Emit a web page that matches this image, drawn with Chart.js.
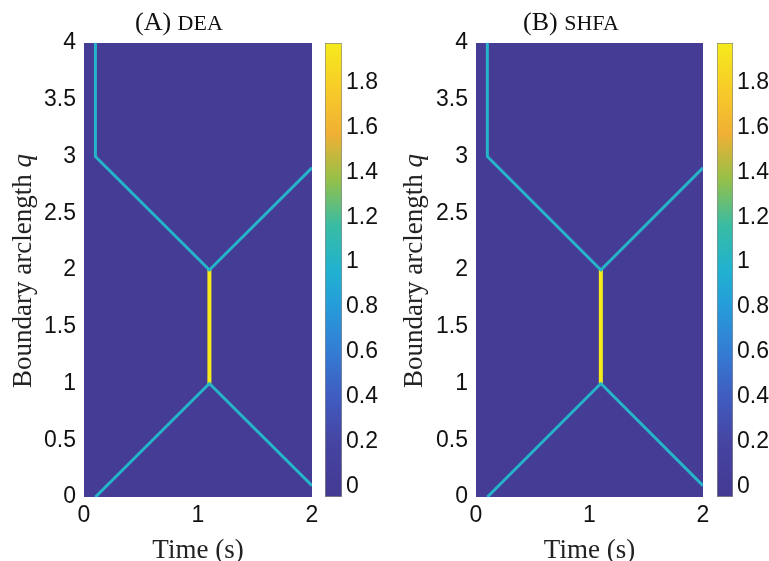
<!DOCTYPE html>
<html>
<head>
<meta charset="utf-8">
<script src="https://cdn.jsdelivr.net/npm/chart.js@4.4.1/dist/chart.umd.min.js"></script>
<style>
    body { margin: 0; background: #fff; width: 769px; height: 561px; position: relative; overflow: hidden; }
    canvas { position: absolute; top: 0; }
    .ttl { position: absolute; top: 7px; font-family: "Liberation Serif", serif; font-size: 26px; color: #111; white-space: nowrap; line-height: 30px; }
    .ttl span { font-size: 22px; }
    .ylab { position: absolute; width: 320px; height: 30px; line-height: 30px; text-align: center; font-family: "Liberation Serif", serif; font-size: 27px; color: #222; transform: rotate(-90deg); white-space: nowrap; }
</style>
</head>
<body>
<canvas id="plotA" width="318" height="561" style="left:0px"></canvas>
<canvas id="barA" width="72" height="561" style="left:318px"></canvas>
<canvas id="plotB" width="320" height="561" style="left:390px"></canvas>
<canvas id="barB" width="59" height="561" style="left:710px"></canvas>

<div class="ttl" style="left:135px">(A) <span>DEA</span></div>
<div class="ttl" style="left:523px">(B) <span>SHFA</span></div>
<div class="ylab" style="left:-138px; top:256px">Boundary arclength <i>q</i></div>
<div class="ylab" style="left:253px; top:256px">Boundary arclength <i>q</i></div>

<script>
"use strict";

// axes
const timeTicks = [0, 1, 2];
const qTicks = [0, 0.5, 1, 1.5, 2, 2.5, 3, 3.5, 4];
const colorTicks = [0, 0.2, 0.4, 0.6, 0.8, 1, 1.2, 1.4, 1.6, 1.8];
const colorMin = -0.045;
const colorMax = 1.975;

// fronts in the (time, q) plane and the value carried on them
const upperFrontT = [0.1, 0.1, 1.1, 2.0];
const upperFrontQ = [4, 3, 2, 2.9];
const lowerFrontT = [0.1, 1.1, 2.0];
const lowerFrontQ = [0, 1, 0.1];
const collisionT = [1.1, 1.1];
const collisionQ = [2, 1];
const frontValue = 1;
const collisionValue = 2;
const backgroundValue = 0;

const panelNames = ["DEA", "SHFA"];

// parula-like stops as seen in the picture
const cmap = [
    [0.00, 67, 58, 146],
    [0.12, 70, 68, 162],
    [0.22, 64, 92, 192],
    [0.32, 52, 124, 212],
    [0.42, 38, 156, 218],
    [0.50, 32, 178, 208],
    [0.60, 58, 188, 162],
    [0.70, 150, 192, 72],
    [0.80, 240, 176, 52],
    [0.90, 248, 204, 40],
    [1.00, 245, 234, 28]
];

function colorAt(v) {
    let t = (v - colorMin) / (colorMax - colorMin);
    t = Math.max(0, Math.min(1, t));
    for (let i = 1; i < cmap.length; i++) {
        if (t <= cmap[i][0]) {
            let a = cmap[i - 1], b = cmap[i];
            let f = (t - a[0]) / (b[0] - a[0]);
            let c = [1, 2, 3].map(k => Math.round(a[k] + (b[k] - a[k]) * f));
            return "rgb(" + c.join(",") + ")";
        }
    }
    return "rgb(245,234,28)";
}

function toPoints(ts, qs) {
    return ts.map((t, i) => ({x: t, y: qs[i]}));
}

const tickFont = {family: "'Liberation Sans', Arial, sans-serif", size: 23};

const fillArea = {
    id: "fillArea",
    beforeDraw(chart) {
        let a = chart.chartArea;
        chart.ctx.save();
        chart.ctx.fillStyle = colorAt(backgroundValue);
        chart.ctx.fillRect(a.left, a.top, a.right - a.left, a.bottom - a.top);
        chart.ctx.restore();
    }
};

function noPad(s) {
    s.paddingLeft = 0;
    s.paddingRight = 0;
    s.paddingTop = 0;
    s.paddingBottom = 0;
}

function makePlot(id, padRight, yWidth) {
    let lineSet = function (ts, qs, value, width) {
        return {
            data: toPoints(ts, qs),
            showLine: true,
            borderColor: colorAt(value),
            borderWidth: width,
            pointRadius: 0,
            borderJoinStyle: "round"
        };
    };
    new Chart(document.getElementById(id), {
        type: "scatter",
        data: {
            datasets: [
                lineSet(upperFrontT, upperFrontQ, frontValue, 3),
                lineSet(lowerFrontT, lowerFrontQ, frontValue, 3),
                lineSet(collisionT, collisionQ, collisionValue, 4)
            ]
        },
        options: {
            responsive: false,
            animation: false,
            layout: {padding: {top: 43, right: padRight, left: 0, bottom: 0}},
            plugins: {legend: {display: false}, tooltip: {enabled: false}},
            scales: {
                x: {
                    type: "linear", min: 0, max: 2,
                    afterBuildTicks: s => { s.ticks = timeTicks.map(v => ({value: v})); },
                    afterFit: s => { s.height = 64; noPad(s); },
                    grid: {display: false, drawTicks: false},
                    border: {display: false},
                    ticks: {font: tickFont, color: "#111", padding: 5, maxRotation: 0, callback: v => String(v)},
                    title: {display: true, text: "Time (s)", font: {family: "'Liberation Serif', serif", size: 27}, color: "#222", padding: {top: 4, bottom: -6}}
                },
                y: {
                    type: "linear", min: 0, max: 4,
                    afterBuildTicks: s => { s.ticks = qTicks.map(v => ({value: v})); },
                    afterFit: s => { s.width = yWidth; noPad(s); },
                    grid: {display: false, drawTicks: false},
                    border: {display: false},
                    ticks: {font: tickFont, color: "#111", padding: 8, callback: v => String(v)}
                }
            }
        },
        plugins: [fillArea]
    });
}

function makeBar(id, padLeft, axisWidth) {
    new Chart(document.getElementById(id), {
        type: "bar",
        data: {
            labels: ["c"],
            datasets: [{
                data: [[colorMin, colorMax]],
                barPercentage: 1,
                categoryPercentage: 1,
                borderWidth: 1,
                borderColor: "#8a8a8a",
                borderSkipped: false,
                backgroundColor: function (ctx) {
                    let ch = ctx.chart;
                    if (!ch.chartArea) return colorAt(0);
                    let y = ch.scales.y;
                    let g = ch.ctx.createLinearGradient(0, y.getPixelForValue(colorMin), 0, y.getPixelForValue(colorMax));
                    cmap.forEach(s => g.addColorStop(s[0], "rgb(" + s[1] + "," + s[2] + "," + s[3] + ")"));
                    return g;
                }
            }]
        },
        options: {
            responsive: false,
            animation: false,
            layout: {padding: {top: 43, bottom: 64, left: padLeft, right: 0}},
            plugins: {legend: {display: false}, tooltip: {enabled: false}},
            scales: {
                x: {display: false},
                y: {
                    position: "right",
                    min: colorMin, max: colorMax,
                    afterBuildTicks: s => { s.ticks = colorTicks.map(v => ({value: v})); },
                    afterFit: s => { s.width = axisWidth; noPad(s); },
                    grid: {display: false, drawTicks: false},
                    border: {display: false},
                    ticks: {font: tickFont, color: "#111", padding: 4, callback: v => String(v)}
                }
            }
        }
    });
}

makePlot("plotA", 6, 84);
makePlot("plotB", 7, 86);
makeBar("barA", 7, 48);
makeBar("barB", 7, 36);
</script>
</body>
</html>
